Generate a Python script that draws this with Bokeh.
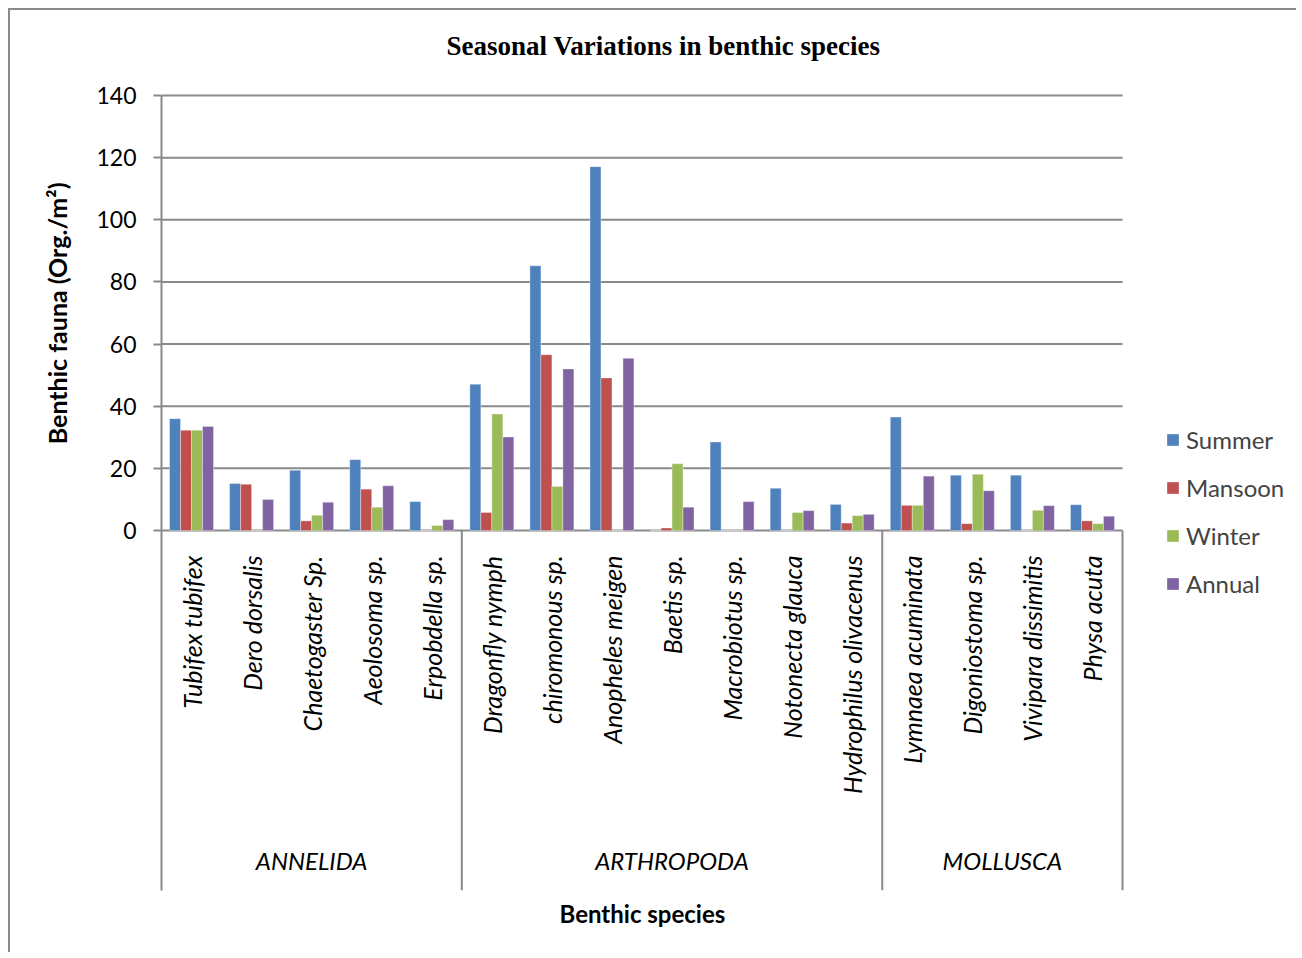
import math
from bokeh.plotting import figure
from bokeh.models import (Range1d, ColumnDataSource, FixedTicker, Legend, LegendItem, Title)
from bokeh.transform import dodge
from bokeh.core.properties import value
from bokeh.embed import file_html
from bokeh.resources import INLINE

# ---------------- data ----------------
phyla = ["ANNELIDA"] * 5 + ["ARTHROPODA"] * 7 + ["MOLLUSCA"] * 4
species = ["Tubifex tubifex", "Dero dorsalis", "Chaetogaster Sp.", "Aeolosoma sp.", "Erpobdella sp.",
           "Dragonfly nymph", "chiromonous sp.", "Anopheles meigen", "Baetis sp.", "Macrobiotus sp.",
           "Notonecta glauca", "Hydrophilus olivacenus",
           "Lymnaea acuminata", "Digoniostoma sp.", "Vivipara dissimitis", "Physa acuta"]
summer = [36.0, 15.1, 19.4, 22.8, 9.3, 47.1, 85.2, 117.1, 0, 28.5, 13.6, 8.4, 36.5, 17.8, 17.8, 8.3]
mansoon = [32.3, 14.9, 3.1, 13.3, 0, 5.8, 56.6, 49.1, 0.8, 0, 0, 2.4, 8.1, 2.2, 0, 3.1]
winter = [32.3, 0, 4.9, 7.5, 1.6, 37.5, 14.2, 0, 21.5, 0, 5.8, 4.8, 8.1, 18.1, 6.5, 2.2]
annual = [33.5, 10.0, 9.1, 14.4, 3.5, 30.1, 52.0, 55.4, 7.5, 9.3, 6.4, 5.2, 17.5, 12.8, 8.0, 4.6]
series_names = ["Summer", "Mansoon", "Winter", "Annual"]
y_ticks = [0, 20, 40, 60, 80, 100, 120, 140]

title_text = "Seasonal  Variations  in  benthic species"
y_title = "Benthic fauna (Org./m\u00b2)"
x_title = "Benthic species"

# ---------------- styles / layout ----------------
colors = ["#4F81BD", "#C0504D", "#9BBB59", "#8064A2"]
GRAY = "#8a8a8a"
FONT = "Lato"

W, H = 1288, 944
VALUE_H, LABEL_H, TOP_PAD = 435, 360, 25     # pixel heights inside the frame
FRAME_H = VALUE_H + LABEL_H + TOP_PAD
ML, MT, MR = 151, 60, 2
MB = H - MT - FRAME_H
FRAME_W = W - ML - MR
CAT_AREA_W = 961                  # pixel width of the category area
YMAX = y_ticks[-1]
PX = YMAX / VALUE_H               # data units per pixel
YMIN = -LABEL_H * PX
YTOP = YMAX + TOP_PAD * PX

N = len(species)
XMAX = N * FRAME_W / CAT_AREA_W
xc = [i + 0.5 for i in range(N)]  # category centres on the linear x scale

p = figure(x_range=Range1d(0, XMAX), y_range=Range1d(YMIN, YTOP), width=W, height=H,
           output_backend="svg", toolbar_location=None, tools="",
           x_axis_location=None, y_axis_location="left",
           min_border_left=ML, min_border_top=MT, min_border_right=MR, min_border_bottom=MB,
           outline_line_color=None, background_fill_color="white", border_fill_color="white")
p.styles = {"border-left": "2px solid #8a8a8a", "border-top": "2px solid #8a8a8a",
            "margin-left": "8px", "margin-top": "8px"}

src = ColumnDataSource(dict(x=xc, species=species, summer=summer, mansoon=mansoon,
                            winter=winter, annual=annual))

# horizontal grid lines limited to the category area
p.segment(x0=[0] * len(y_ticks), x1=[N] * len(y_ticks), y0=y_ticks, y1=y_ticks,
          line_color=GRAY, line_width=2)

bw = 0.183
cols = ["summer", "mansoon", "winter", "annual"]
renderers = []
for i, (c, col) in enumerate(zip(colors, cols)):
    off = (i - 1.5) * bw
    r = p.vbar(x=dodge("x", off), top=col, bottom=0, width=bw, source=src,
               fill_color=c, line_color="white", line_alpha=0.35, line_width=1)
    renderers.append(r)

# y axis
ax = p.yaxis[0]
ax.ticker = FixedTicker(ticks=y_ticks)
ax.bounds = (YMIN, YMAX)
ax.axis_line_color = GRAY
ax.axis_line_width = 2
ax.major_tick_line_color = GRAY
ax.major_tick_line_width = 2
ax.major_tick_out = 8
ax.major_tick_in = 0
ax.minor_tick_line_color = None
ax.major_label_text_font = FONT
ax.major_label_text_font_size = "23px"
ax.major_label_text_color = "black"
ax.major_label_standoff = 17

p.xgrid.visible = False
p.ygrid.visible = False

# group separators and right boundary
sizes = []
for ph in phyla:
    if not sizes or sizes[-1][0] != ph:
        sizes.append([ph, 0])
    sizes[-1][1] += 1
bounds, centres = [], []
acc = 0
for ph, n in sizes:
    centres.append(acc + n / 2)
    acc += n
    bounds.append(acc)
p.segment(x0=bounds, y0=[0] * len(bounds), x1=bounds, y1=[YMIN] * len(bounds),
          line_color=GRAY, line_width=2)

# species labels
p.text(x="x", y=0, text="species", source=src, angle=math.pi / 2, text_align="right",
       text_baseline="middle", y_offset=25, text_font=value(FONT), text_font_style="italic",
       text_font_size="25px", text_color="black")

# group labels
groups = [s[0] for s in sizes]
p.text(x=centres, y=[0] * len(groups), text=groups, text_align="center", text_baseline="middle",
       y_offset=330, text_font=value(FONT), text_font_style="italic", text_font_size="24px",
       text_color="black")

# y axis title (left side, centred on the value area)
p.add_layout(Title(text=y_title, align="right", offset=87 + TOP_PAD, standoff=44,
                   text_font=FONT, text_font_style="bold", text_font_size="25px",
                   text_color="black"), "left")

# titles
p.add_layout(Title(text=title_text, align="left", offset=285, vertical_align="bottom",
                   text_font="Liberation Serif", text_font_size="27px", text_font_style="bold",
                   standoff=20, text_color="black"), "above")
p.add_layout(Title(text=x_title, align="left", offset=398, text_font=FONT, text_font_size="24px",
                   text_font_style="bold", standoff=12, text_color="black"), "below")

legend = Legend(items=[LegendItem(label=n, renderers=[r]) for n, r in zip(series_names, renderers)],
                location=(1004, 292), border_line_color=None, background_fill_alpha=0,
                glyph_width=15, glyph_height=15, label_text_font=FONT,
                label_text_font_size="24px", label_standoff=6, label_height=30, spacing=18,
                padding=0, margin=0)
p.add_layout(legend)

open("out.html", "w").write(file_html(p, INLINE))
